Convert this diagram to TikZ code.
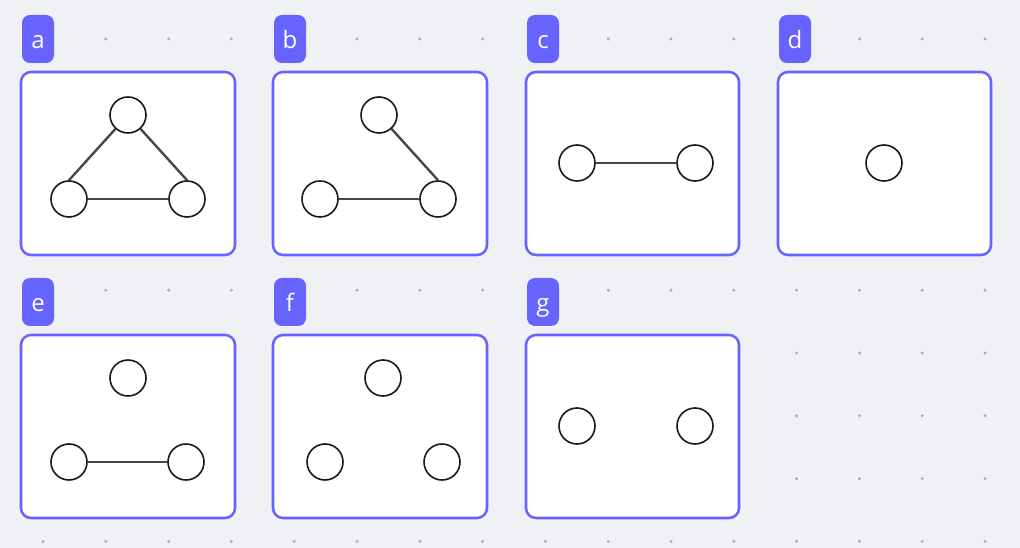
\documentclass[tikz,border=0pt]{standalone}
\usepackage{fontspec}
\setmainfont{Open Sans}
\definecolor{bgcol}{HTML}{F0F1F4}
\definecolor{dotcol}{HTML}{A8AAAF}
\definecolor{violet}{HTML}{6663FF}
\definecolor{edgecol}{HTML}{41484F}
\begin{document}
\begin{tikzpicture}[x=0.75pt,y=-0.75pt,
  card/.style={draw=violet,line width=1.9pt,fill=white,rounded corners=7.5pt},
  tag/.style={fill=violet,text=white,rounded corners=6pt,inner sep=0pt,
    minimum width=24pt,text height=25.5pt,text depth=10.5pt,
    font=\fontsize{18}{20}\selectfont},
  vert/.style={circle,draw=black!90,line width=1.2pt,fill=white,minimum size=27pt,inner sep=0pt},
  edge/.style={draw=edgecol,line width=1.8pt}]
\fill[bgcol] (0,0) rectangle (1020,548);
\useasboundingbox (0,0) rectangle (1020,548);
% dot grid
\foreach \i in {0,...,15}
  \foreach \j in {0,...,8}
    \fill[dotcol] (43+62.8*\i,39+62.8*\j) circle (1.2pt);
% cards
\draw[card] (21,72) rectangle (235,255);
\draw[card] (273,72) rectangle (487,255);
\draw[card] (526,72) rectangle (739,255);
\draw[card] (778,72) rectangle (991,255);
\draw[card] (21,335) rectangle (235,518);
\draw[card] (273,335) rectangle (487,518);
\draw[card] (526,335) rectangle (739,518);
% tags
\node[tag] (tagA) at (38,39) {a};
\node[tag] (tagB) at (290,39) {b};
\node[tag] (tagC) at (543,39) {c};
\node[tag] (tagD) at (795,39) {d};
\node[tag] (tagE) at (38,302) {e};
\node[tag] (tagF) at (290,302) {f};
\node[tag] (tagG) at (543,302) {g};
% a
\node[vert] (a1) at (128,115) {};
\node[vert] (a2) at (69,199) {};
\node[vert] (a3) at (187,199) {};
\draw[edge] (a2.north) -- (a1);
\draw[edge] (a3.north) -- (a1);
\draw[edge] (a2) -- (a3);
% b
\node[vert] (b1) at (379,115) {};
\node[vert] (b2) at (320,199) {};
\node[vert] (b3) at (438,199) {};
\draw[edge] (b3.north) -- (b1);
\draw[edge] (b2) -- (b3);
% c
\node[vert] (c1) at (577,163) {};
\node[vert] (c2) at (695,163) {};
\draw[edge] (c1) -- (c2);
% d
\node[vert] (d1) at (884,163) {};
% e
\node[vert] (e1) at (128,378) {};
\node[vert] (e2) at (69,462) {};
\node[vert] (e3) at (186,462) {};
\draw[edge] (e2) -- (e3);
% f
\node[vert] (f1) at (383,378) {};
\node[vert] (f2) at (325,462) {};
\node[vert] (f3) at (442,462) {};
% g
\node[vert] (g1) at (577,426) {};
\node[vert] (g2) at (695,426) {};
\end{tikzpicture}
\end{document}
